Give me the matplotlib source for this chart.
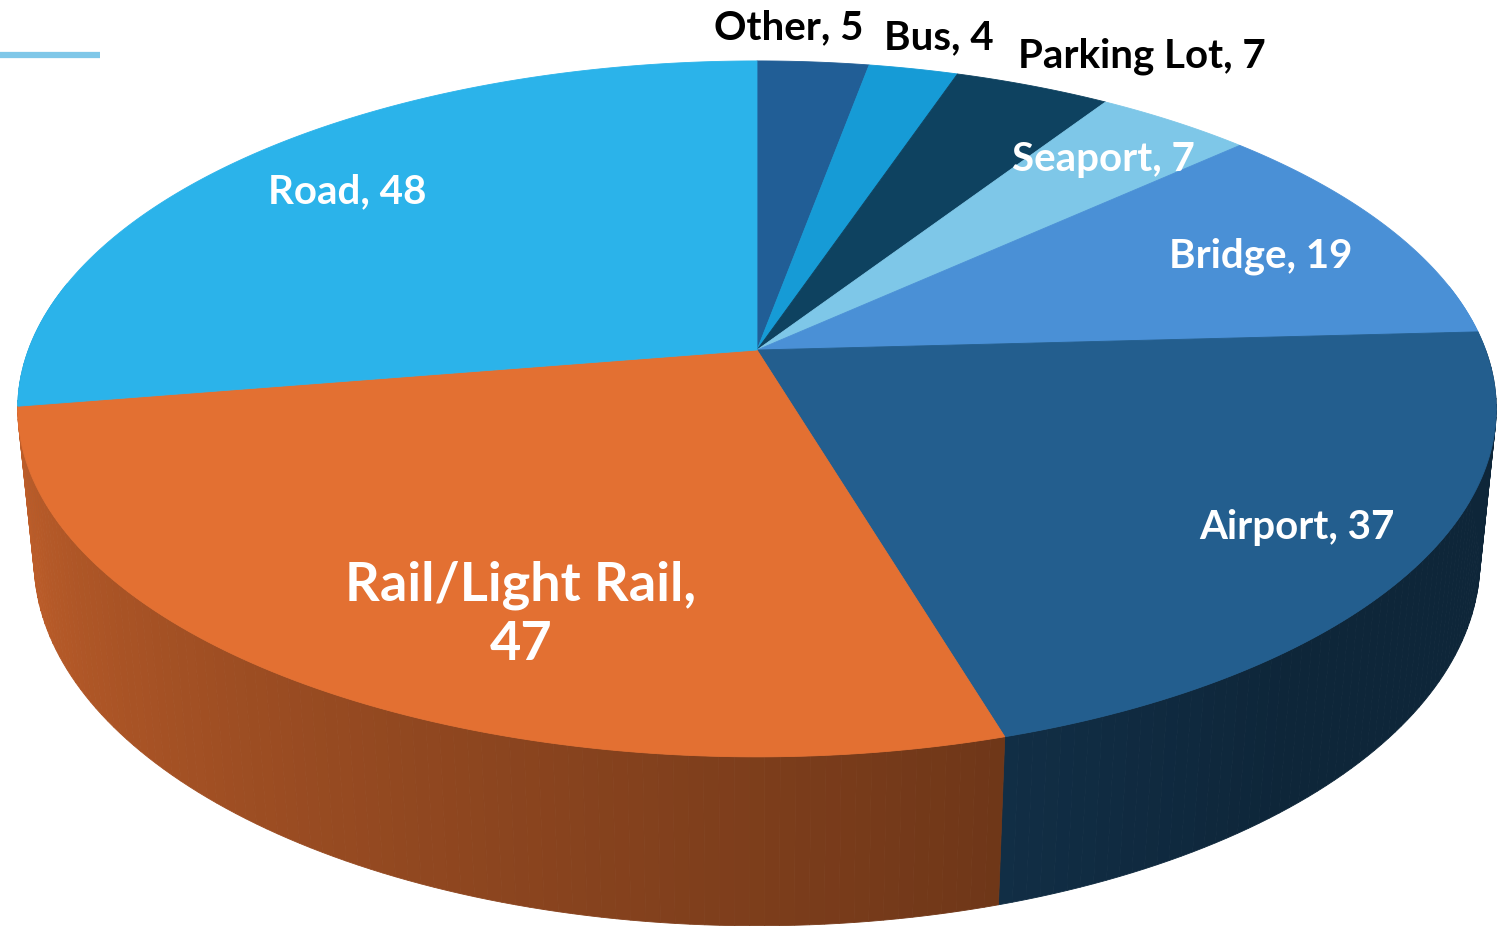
import numpy as np
import matplotlib.pyplot as plt
from matplotlib.patches import Polygon

# data (clockwise from 12 o'clock)
categories = ['Other', 'Bus', 'Parking Lot', 'Seaport', 'Bridge', 'Airport',
              'Rail/Light Rail', 'Road']
values = [5, 4, 7, 7, 19, 37, 47, 48]
colors = ['#215e96', '#169bd6', '#0e4260', '#7ec7e8', '#4a90d6', '#235e8e',
          '#e37032', '#2bb3ea']

# label placement (pixel coords of the label centre), colour, size
label_pos = [(789, 28), (939, 38), (1142, 56), (1103, 160), (1261, 256),
             (1297, 528), (521, 615), (347, 192)]
label_col = ['black', 'black', 'black', 'white', 'white', 'white', 'white', 'white']
label_size = [29, 29, 29, 29, 29, 29, 39, 29]

# 3d view parameters
elev = np.arcsin(0.4716)
dist = 5.21
scale_x, scale_y = 3796, 3734
cx, cy = 757, 350
thick = 0.242
ce, se = np.cos(elev), np.sin(elev)


def proj(x, y, z):
    depth = ce * y + dist - se * z
    up = se * y + ce * z
    return cx + scale_x * x / depth, cy - scale_y * up / depth


def shade(t):
    t = np.degrees(t) % 360
    return np.clip(0.85 - 0.00375 * (t - 190), 0.4, 1.0)


fig = plt.figure(figsize=(15.08, 9.26), dpi=100)
ax = fig.add_axes([0, 0, 1, 1])
ax.set_xlim(0, 1508)
ax.set_ylim(926, 0)
ax.axis('off')

# decorative rule top-left
ax.plot([0, 100], [55, 55], color='#7fc7e8', lw=4.5, solid_capstyle='butt')

total = sum(values)
bounds = []
start = 90.0
for v in values:
    end = start - 360.0 * v / total
    bounds.append((np.radians(end), np.radians(start)))
    start = end

# side wall, drawn as thin strips back to front
strips = []
for (t0, t1), col in zip(bounds, colors):
    n = max(int(np.degrees(t1 - t0)), 2)
    ts = np.linspace(t0, t1, n + 1)
    for a, b in zip(ts[:-1], ts[1:]):
        m = 0.5 * (a + b)
        if np.sin(m) > 0.2:
            continue
        tt = np.linspace(a, b, 4)
        top = [proj(np.cos(t), np.sin(t), 0) for t in tt]
        bot = [proj(np.cos(t), np.sin(t), -thick) for t in tt[::-1]]
        rgb = np.array(plt.matplotlib.colors.to_rgb(col)) * shade(m)
        strips.append((np.sin(m), top + bot, rgb))
strips.sort(key=lambda s: -s[0])
for _, pts, rgb in strips:
    ax.add_patch(Polygon(pts, closed=True, facecolor=rgb, edgecolor=rgb, lw=0.6))

# top face
for (t0, t1), col in zip(bounds, colors):
    tt = np.linspace(t0, t1, 200)
    pts = [proj(0, 0, 0)] + [proj(np.cos(t), np.sin(t), 0) for t in tt]
    ax.add_patch(Polygon(pts, closed=True, facecolor=col, edgecolor=col, lw=0.6))

# labels
for cat, v, (lx, ly), lc, ls in zip(categories, values, label_pos, label_col, label_size):
    txt = f'{cat},\n{v}' if cat == 'Rail/Light Rail' else f'{cat}, {v}'
    ax.text(lx, ly, txt, color=lc, fontsize=ls, fontweight='bold', family='Lato',
            ha='center', va='center', linespacing=1.25)

fig.savefig('out.png', dpi=100, facecolor='white')
